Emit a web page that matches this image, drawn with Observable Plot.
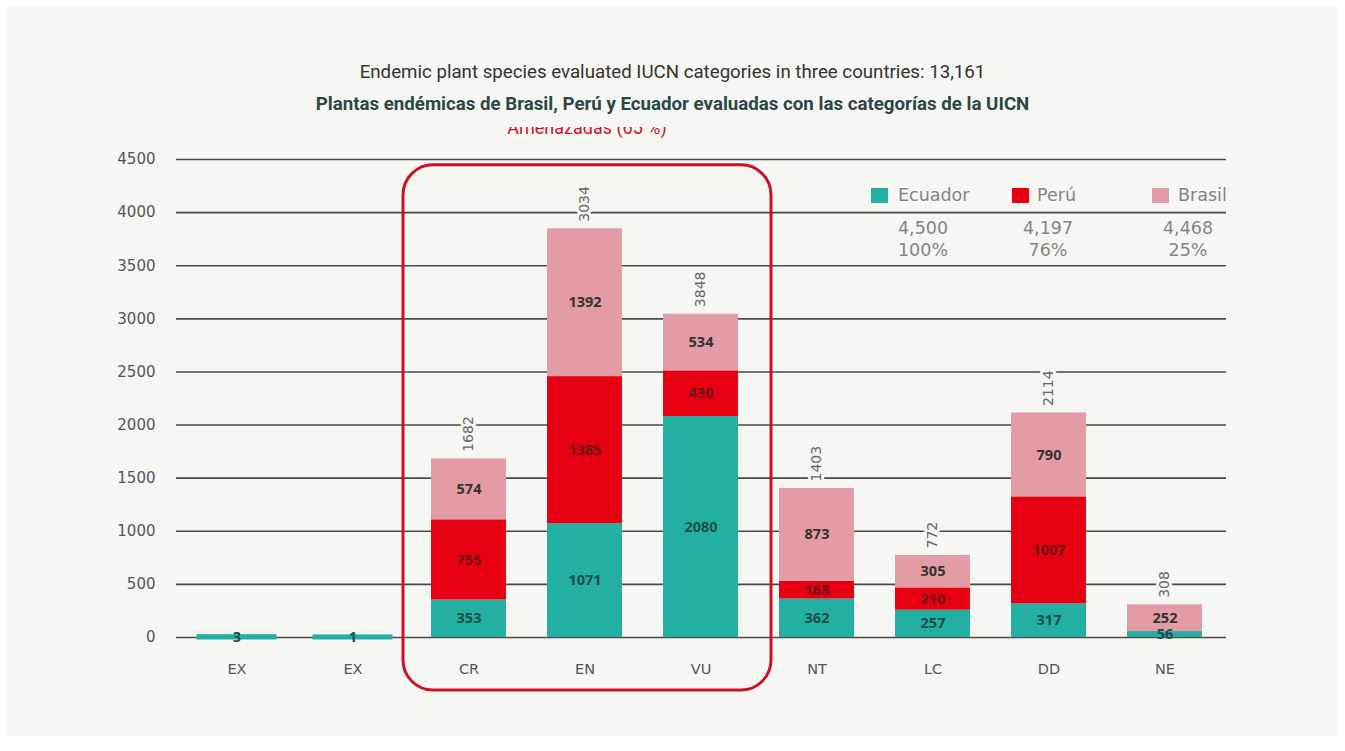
<!DOCTYPE html>
<html>
<head>
<meta charset="utf-8">
<script src="https://cdn.jsdelivr.net/npm/d3@7"></script>
<script src="https://cdn.jsdelivr.net/npm/@observablehq/plot@0.6"></script>
<style>
  html, body { margin: 0; padding: 0; background: #ffffff; }
  #page { position: relative; width: 1345px; height: 751px; overflow: hidden; }
  #panel { position: absolute; left: 7px; top: 6px; width: 1330px; height: 730px; background: #f6f6f3; }
  #chart { position: absolute; left: 0; top: 0; }
  .title { position: absolute; left: 0; width: 1345px; text-align: center; font-family: Roboto, sans-serif; font-size: 18.7px; line-height: 22px; }
  #t1 { top: 61px; color: #333; }
  #t2 { top: 93px; color: #2b4747; font-weight: bold; }
  #threat { position: absolute; left: 0; width: 1170px; top: 127px; height: 14px; overflow: hidden; text-align: center; line-height: 20px; }
  #threat span { position: relative; top: -9px; font-family: Roboto, sans-serif; font-size: 18px; color: #d0102a; }
  .leg { position: absolute; font-family: "DejaVu Sans", sans-serif; color: #858585; }
  .leg .sw { position: absolute; width: 17px; height: 15px; top: 0; left: 0; }
  .leg .nm { position: absolute; top: -3px; font-size: 17.5px; line-height: 20px; white-space: nowrap; }
  .num { position: absolute; width: 100px; text-align: center; font-family: "DejaVu Sans", sans-serif; font-size: 17.5px; color: #858585; line-height: 22px; }
</style>
</head>
<body>
<div id="page">
  <div id="panel"></div>
  <div id="chart"></div>
  <div class="title" id="t1">Endemic plant species evaluated IUCN categories in three countries: 13,161</div>
  <div id="threat"><span>Amenazadas (65 %)</span></div>
  <div class="title" id="t2">Plantas endémicas de Brasil, Perú y Ecuador evaluadas con las categorías de la UICN</div>
</div>
<script>
// IUCN categories (two extinct groups share the "EX" label)
const categories = ["EX", "EW", "CR", "EN", "VU", "NT", "LC", "DD", "NE"];
const tickLabels = ["EX", "EX", "CR", "EN", "VU", "NT", "LC", "DD", "NE"];
const countries = ["Ecuador", "Perú", "Brasil"];
const colors = ["#23b0a3", "#e60012", "#e39ba6"];
const labelColors = ["#1e4d4a", "#6a1616", "#333333"];

// species per category and country
const ecuador = [3, 1, 353, 1071, 2080, 362, 257, 317, 56];
const peru = [0, 0, 755, 1385, 430, 168, 210, 1007, 0];
const brasil = [0, 0, 574, 1392, 534, 873, 305, 790, 252];

// totals printed above the bars
const totalLabels = ["", "", "1682", "3034", "3848", "1403", "772", "2114", "308"];

// legend figures per country
const legendTotals = ["4,500", "4,197", "4,468"];
const legendShares = ["100%", "76%", "25%"];

const yTicks = [0, 500, 1000, 1500, 2000, 2500, 3000, 3500, 4000, 4500];

const series = [ecuador, peru, brasil];
const rows = [];
categories.forEach((c, i) => {
  countries.forEach((k, j) => {
    rows.push({category: c, country: k, value: series[j][i], ink: labelColors[j]});
  });
});
const totals = categories.map((c, i) => ({
  category: c,
  total: ecuador[i] + peru[i] + brasil[i],
  label: totalLabels[i]
}));

const bg = "#f6f6f3";
const numFont = "'DejaVu Sans', sans-serif";

const plot = Plot.plot({
  width: 1345,
  height: 751,
  marginLeft: 176,
  marginRight: 119,
  marginTop: 159,
  marginBottom: 114,
  style: {background: "transparent", fontFamily: numFont, fontSize: "14px", color: "#555"},
  x: {domain: categories, paddingInner: 0.35, paddingOuter: 0.175, label: null},
  y: {domain: [0, 4500], label: null},
  color: {domain: countries, range: colors},
  marks: [
    Plot.ruleY(yTicks, {stroke: "#4a4a4a", strokeWidth: 1.6}),
    Plot.axisY({ticks: yTicks, tickSize: 0, tickPadding: 21, fontSize: 15, tickFormat: d => String(d), label: null, fill: "#555"}),
    Plot.axisX({tickSize: 0, tickPadding: 26, fontSize: 14.5, tickFormat: d => tickLabels[categories.indexOf(d)], label: null, fill: "#555"}),
    Plot.barY(rows, {x: "category", y: "value", fill: "country", order: countries}),
    // keep the very small extinct counts visible on the baseline
    Plot.barY(rows.filter(d => d.value > 0 && d.value < 20), {x: "category", y: "value", fill: "country", stroke: "country", strokeWidth: 5}),
    Plot.text(rows, Plot.stackY({
      x: "category", y: "value", z: "country", order: countries,
      text: d => d.value > 0 ? String(d.value) : "",
      fill: "ink", fontSize: 14.5, fontWeight: "bold", fontFamily: "'Open Sans', sans-serif"
    })),
    Plot.text(totals, {
      x: "category", y: "total", text: "label", rotate: -90, textAnchor: "start",
      dy: -7, fontSize: 14, fill: "#666", stroke: bg, strokeWidth: 6
    })
  ]
});
document.getElementById("chart").appendChild(plot);

// rounded frame around the threatened categories (CR, EN, VU)
const xs = plot.scale("x");
const ys = plot.scale("y");
const frameLeft = xs.apply("CR") - 28;
const frameRight = xs.apply("VU") + xs.bandwidth + 33;
const frameTop = ys.apply(4445);
const frameBottom = ys.apply(0) + 53;
d3.select(plot).append("rect")
  .attr("x", frameLeft).attr("y", frameTop)
  .attr("width", frameRight - frameLeft).attr("height", frameBottom - frameTop)
  .attr("rx", 30).attr("ry", 30)
  .attr("fill", "none").attr("stroke", "#cc1126").attr("stroke-width", 3);

// centre the heading over the frame
document.getElementById("threat").style.width = (frameLeft + frameRight) + "px";

// legend
const page = document.getElementById("page");
const swatchX = [871, 1012, 1152];
const nameGap = [27, 25, 26];
const numberX = [923, 1048, 1188];
countries.forEach((k, j) => {
  const item = document.createElement("div");
  item.className = "leg";
  item.style.left = swatchX[j] + "px";
  item.style.top = "188px";
  item.innerHTML = `<div class="sw" style="background:${colors[j]}"></div><div class="nm" style="left:${nameGap[j]}px">${k}</div>`;
  page.appendChild(item);
  const num = document.createElement("div");
  num.className = "num";
  num.style.left = (numberX[j] - 50) + "px";
  num.style.top = "217px";
  num.innerHTML = `${legendTotals[j]}<br>${legendShares[j]}`;
  page.appendChild(num);
});
</script>
</body>
</html>
